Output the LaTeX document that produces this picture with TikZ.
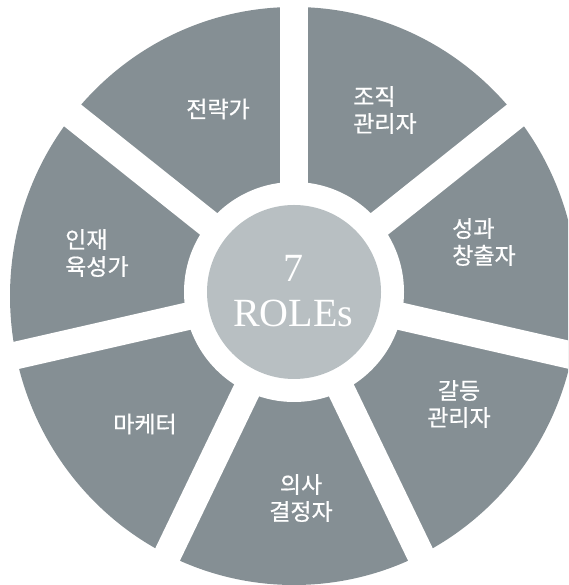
\documentclass[tikz,border=0pt]{standalone}
\usepackage{fontspec}
\setmainfont{Liberation Serif}
\newfontfamily\krfont[FakeBold=0.6]{Noto Sans CJK KR}
\definecolor{segcol}{RGB}{133,143,148}
\definecolor{hubcol}{RGB}{184,191,194}
\begin{document}
\begin{tikzpicture}[x=1pt,y=1pt,
  lbl/.style={text=white,font=\krfont\fontsize{23}{27}\selectfont,align=center,inner sep=0pt},
  lbll/.style={lbl,align=left,anchor=west},
  hubtxt/.style={text=white,font=\fontsize{40}{45}\selectfont,inner sep=0pt,anchor=base},
  gap/.style={white,line width=27.6pt}]
\useasboundingbox (0,0) rectangle (568,585);
\clip (0,0) rectangle (568,585);
\coordinate (c) at (294,293);
\fill[segcol] (294,289) ellipse [x radius=284, y radius=289];
\foreach \k in {0,...,6}
  \draw[gap] (c) -- ++({90+\k*360/7}:330);
\fill[white] (c) circle (110);
\node[circle,fill=hubcol,minimum size=174pt,inner sep=0pt] (hub) at (c) {};
\node[hubtxt] (seven) at (293,303) {7};
\node[hubtxt] (roles) at (293,258) {ROLEs};
\node[lbl] (s1) at (218,476) {전략가};
\node[lbll] (s2) at (353,475) {조직\\관리자};
\node[lbll] (s3) at (452,343) {성과\\창출자};
\node[lbl] (s4) at (459,181) {갈등\\관리자};
\node[lbl] (s5) at (301,87) {의사\\결정자};
\node[lbl] (s6) at (145,161) {마케터};
\node[lbll] (s7) at (65,332) {인재\\육성가};
\end{tikzpicture}
\end{document}
